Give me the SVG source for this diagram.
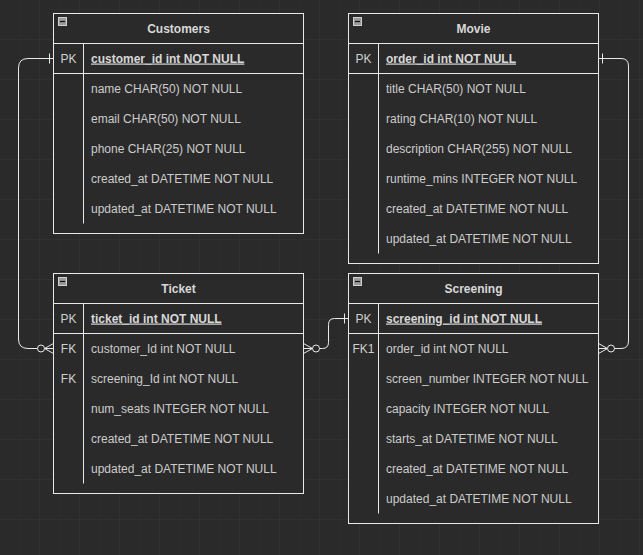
<svg xmlns="http://www.w3.org/2000/svg" width="643" height="555" viewBox="0 0 643 555">
  <defs>
    <style>
      .tbl { fill: #2a2a2a; stroke: #e8e8e8; stroke-width: 1; }
      .ln { stroke: #e8e8e8; stroke-width: 1; fill: none; }
      .title { font-family: "Liberation Sans", Arial, sans-serif; font-size: 12px; font-weight: bold; fill: #d8d8d8; text-anchor: middle; }
      .key { font-family: "Liberation Sans", Arial, sans-serif; font-size: 12px; fill: #d0d0d0; text-anchor: middle; }
      .pk { font-family: "Liberation Sans", Arial, sans-serif; font-size: 12px; font-weight: bold; fill: #d8d8d8; text-decoration: underline; }
      .fld { font-family: "Liberation Sans", Arial, sans-serif; font-size: 12px; fill: #cccccc; }
      .edge { stroke: #e8e8e8; stroke-width: 1; fill: none; }
    </style>
    <pattern id="gridMinor" width="10" height="10" patternUnits="userSpaceOnUse">
      <path d="M10 0 V10 M0 10 H10" stroke="#2e2e2e" stroke-width="1" fill="none"/>
    </pattern>
    <pattern id="gridMajor" width="40" height="40" patternUnits="userSpaceOnUse">
      <rect width="40" height="40" fill="url(#gridMinor)"/>
      <path d="M40 0 V40 M0 40 H40" stroke="#333333" stroke-width="1" fill="none"/>
    </pattern>
    <!-- collapse toggle shown in each table header -->
    <g id="collapse">
      <rect x="0.5" y="0.5" width="8" height="8" fill="#9a9a9a" stroke="#d0d0d0" stroke-width="1"/>
      <path d="M2 4.5 H7" stroke="#111" stroke-width="1.2"/>
    </g>
    <!-- crow's foot: zero or many -->
    <marker id="zeroMany" markerUnits="userSpaceOnUse" viewBox="-18 -7 20 14" refX="0" refY="0" markerWidth="20" markerHeight="14" orient="auto-start-reverse" overflow="visible">
      <path d="M-9 0 L0 -5 M-9 0 L0 5 M-9 0 L0 0" stroke="#e8e8e8" stroke-width="1" fill="none"/>
      <circle cx="-12.5" cy="0" r="3.5" fill="#2a2a2a" stroke="#e8e8e8" stroke-width="1"/>
    </marker>
    <!-- single bar: exactly one -->
    <marker id="one" markerUnits="userSpaceOnUse" viewBox="-10 -7 12 14" refX="0" refY="0" markerWidth="12" markerHeight="14" orient="auto-start-reverse" overflow="visible">
      <path d="M-4 -5 V5" stroke="#e8e8e8" stroke-width="1" fill="none"/>
    </marker>
  </defs>

  <rect width="643" height="555" fill="#2a2a2a"/>
  <rect width="643" height="555" fill="url(#gridMajor)"/>

  <!-- relationships -->
  <g id="connectors">
    <path class="edge" d="M53.5 58.5 H28 Q18.5 58.5 18.5 68 V339 Q18.5 348.5 28 348.5 H53.5" marker-start="url(#one)" marker-end="url(#zeroMany)"/>
    <path class="edge" d="M598.5 58.5 H621 Q628.5 58.5 628.5 66 V341 Q628.5 348.5 621 348.5 H598.5" marker-start="url(#one)" marker-end="url(#zeroMany)"/>
    <path class="edge" d="M303.5 348.5 H322.5 Q328.5 348.5 328.5 342.5 V324.5 Q328.5 318.5 334.5 318.5 H348.5" marker-start="url(#zeroMany)" marker-end="url(#one)"/>
  </g>

  <!-- Customers -->
  <g id="customers">
    <rect class="tbl" x="53.5" y="13.5" width="250" height="220"/>
    <path class="ln" d="M53.5 43.5 H303.5 M53.5 73.5 H303.5 M83.5 43.5 V223.5"/>
    <use href="#collapse" x="58" y="17"/>
    <text class="title" x="178.5" y="32.5">Customers</text>
    <text class="key" x="68.5" y="62.5">PK</text>
    <text class="pk" x="91" y="62.5">customer_id int NOT NULL</text>
    <text class="fld" x="91" y="92.5">name CHAR(50) NOT NULL</text>
    <text class="fld" x="91" y="122.5">email CHAR(50) NOT NULL</text>
    <text class="fld" x="91" y="152.5">phone CHAR(25) NOT NULL</text>
    <text class="fld" x="91" y="182.5">created_at DATETIME NOT NULL</text>
    <text class="fld" x="91" y="212.5">updated_at DATETIME NOT NULL</text>
  </g>

  <!-- Movie -->
  <g id="movie">
    <rect class="tbl" x="348.5" y="13.5" width="250" height="250"/>
    <path class="ln" d="M348.5 43.5 H598.5 M348.5 73.5 H598.5 M378.5 43.5 V253.5"/>
    <use href="#collapse" x="353" y="17"/>
    <text class="title" x="473.5" y="32.5">Movie</text>
    <text class="key" x="363.5" y="62.5">PK</text>
    <text class="pk" x="386" y="62.5">order_id int NOT NULL</text>
    <text class="fld" x="386" y="92.5">title CHAR(50) NOT NULL</text>
    <text class="fld" x="386" y="122.5">rating CHAR(10) NOT NULL</text>
    <text class="fld" x="386" y="152.5">description CHAR(255) NOT NULL</text>
    <text class="fld" x="386" y="182.5">runtime_mins INTEGER NOT NULL</text>
    <text class="fld" x="386" y="212.5">created_at DATETIME NOT NULL</text>
    <text class="fld" x="386" y="242.5">updated_at DATETIME NOT NULL</text>
  </g>

  <!-- Ticket -->
  <g id="ticket">
    <rect class="tbl" x="53.5" y="273.5" width="250" height="220"/>
    <path class="ln" d="M53.5 303.5 H303.5 M53.5 333.5 H303.5 M83.5 303.5 V483.5"/>
    <use href="#collapse" x="58" y="277"/>
    <text class="title" x="178.5" y="292.5">Ticket</text>
    <text class="key" x="68.5" y="322.5">PK</text>
    <text class="pk" x="91" y="322.5">ticket_id int NOT NULL</text>
    <text class="key" x="68.5" y="352.5">FK</text>
    <text class="fld" x="91" y="352.5">customer_Id int NOT NULL</text>
    <text class="key" x="68.5" y="382.5">FK</text>
    <text class="fld" x="91" y="382.5">screening_Id int NOT NULL</text>
    <text class="fld" x="91" y="412.5">num_seats INTEGER NOT NULL</text>
    <text class="fld" x="91" y="442.5">created_at DATETIME NOT NULL</text>
    <text class="fld" x="91" y="472.5">updated_at DATETIME NOT NULL</text>
  </g>

  <!-- Screening -->
  <g id="screening">
    <rect class="tbl" x="348.5" y="273.5" width="250" height="250"/>
    <path class="ln" d="M348.5 303.5 H598.5 M348.5 333.5 H598.5 M378.5 303.5 V513.5"/>
    <use href="#collapse" x="353" y="277"/>
    <text class="title" x="473.5" y="292.5">Screening</text>
    <text class="key" x="363.5" y="322.5">PK</text>
    <text class="pk" x="386" y="322.5">screening_id int NOT NULL</text>
    <text class="key" x="363.5" y="352.5">FK1</text>
    <text class="fld" x="386" y="352.5">order_id int NOT NULL</text>
    <text class="fld" x="386" y="382.5">screen_number INTEGER NOT NULL</text>
    <text class="fld" x="386" y="412.5">capacity INTEGER NOT NULL</text>
    <text class="fld" x="386" y="442.5">starts_at DATETIME NOT NULL</text>
    <text class="fld" x="386" y="472.5">created_at DATETIME NOT NULL</text>
    <text class="fld" x="386" y="502.5">updated_at DATETIME NOT NULL</text>
  </g>
</svg>
